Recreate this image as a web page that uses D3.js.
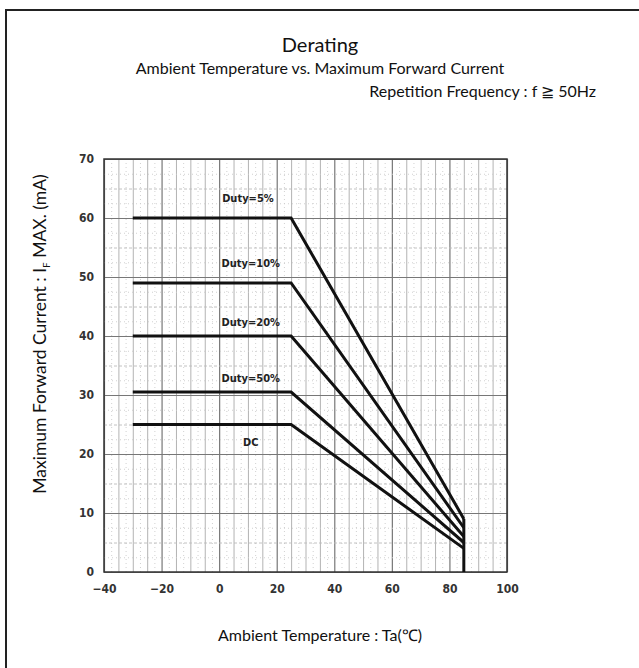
<!DOCTYPE html>
<html>
<head>
<meta charset="utf-8">
<script src="https://cdn.jsdelivr.net/npm/d3@7"></script>
<style>
  html, body { margin: 0; background: #fff; overflow: hidden; }
  svg { display: block; }
  .tick text { font-family: "Liberation Sans Narrow", "DejaVu Sans Condensed", sans-serif; font-weight: bold; fill: #333; }
</style>
</head>
<body>
<div id="chart"></div>
<script>
// curve data
const dutyLabels = ["Duty=5%", "Duty=10%", "Duty=20%", "Duty=50%", "DC"];
const flatCurrent = [60, 49, 40, 30.5, 25];
const endCurrent = [9, 7.5, 6, 5, 4];
const startTemp = -30, kneeTemp = 25, endTemp = 85;
const labelTemp = [10, 11, 11, 11, 11];
const labelCurrent = [63.4, 52.4, 42.4, 32.9, 22];
const xTicks = [-40, -20, 0, 20, 40, 60, 80, 100];
const yTicks = [0, 10, 20, 30, 40, 50, 60, 70];

const width = 639, height = 668;
const margins = { top: 159, right: 132, bottom: 96, left: 104 };
const w = width - margins.left - margins.right;
const h = height - margins.top - margins.bottom;

const svg = d3.select("#chart").append("svg")
  .attr("width", width).attr("height", height);

// outer frame (only left and top edges fall inside the picture)
svg.append("path")
  .attr("d", `M6,${height + 10}V10H${width + 10}`)
  .attr("fill", "none").attr("stroke", "#222").attr("stroke-width", 2);

const font = "Lato, 'Open Sans', sans-serif";

svg.append("text")
  .attr("x", 320).attr("y", 52)
  .attr("text-anchor", "middle")
  .style("font-family", font).style("font-size", "20px").attr("fill", "#111")
  .text("Derating");

svg.append("text")
  .attr("x", 320).attr("y", 74)
  .attr("text-anchor", "middle")
  .style("font-family", font).style("font-size", "16px").attr("fill", "#111")
  .text("Ambient Temperature vs. Maximum Forward Current");

svg.append("text")
  .attr("x", 596).attr("y", 97)
  .attr("text-anchor", "end")
  .style("font-family", font).style("font-size", "16px").attr("fill", "#111")
  .text("Repetition Frequency : f \u2267 50Hz");

const g = svg.append("g").attr("transform", `translate(${margins.left},${margins.top})`);

const x = d3.scaleLinear().domain([-40, 100]).range([0, w]);
const y = d3.scaleLinear().domain([0, 70]).range([h, 0]);

// graph paper grid
g.append("g")
  .call(d3.axisBottom(x).tickValues(d3.range(-40, 100.1, 2.5)).tickSize(h).tickFormat(""))
  .call(a => a.select(".domain").remove())
  .selectAll("line")
  .attr("stroke", d => d % 20 === 0 ? "#777" : d % 5 === 0 ? "#aaa" : "#ccc")
  .attr("stroke-dasharray", d => d % 5 === 0 ? null : "1,3")
  .attr("stroke-width", d => d % 20 === 0 ? 1.2 : 0.9);

g.append("g")
  .call(d3.axisLeft(y).tickValues(d3.range(0, 70.1, 2.5)).tickSize(-w).tickFormat(""))
  .call(a => a.select(".domain").remove())
  .selectAll("line")
  .attr("stroke", d => d % 10 === 0 ? "#777" : d % 5 === 0 ? "#bbb" : "#ccc")
  .attr("stroke-dasharray", d => d % 10 === 0 ? null : d % 5 === 0 ? "3,2" : "1,3")
  .attr("stroke-width", d => d % 10 === 0 ? 1.2 : 0.9);

g.append("rect")
  .attr("width", w).attr("height", h)
  .attr("fill", "none").attr("stroke", "#333").attr("stroke-width", 1.5);

g.append("g")
  .attr("transform", `translate(0,${h})`)
  .call(d3.axisBottom(x).tickValues(xTicks).tickSize(0).tickPadding(12))
  .call(a => a.select(".domain").remove())
  .selectAll("text").style("font-size", "12px");

g.append("g")
  .call(d3.axisLeft(y).tickValues(yTicks).tickSize(0).tickPadding(10))
  .call(a => a.select(".domain").remove())
  .selectAll("text").style("font-size", "12px");

// derating curves
const line = d3.line().x(d => x(d[0])).y(d => y(d[1]));
dutyLabels.forEach((name, i) => {
  const pts = [[startTemp, flatCurrent[i]], [kneeTemp, flatCurrent[i]], [endTemp, endCurrent[i]]];
  g.append("path")
    .attr("d", line(pts))
    .attr("fill", "none").attr("stroke", "#111").attr("stroke-width", 3)
    .attr("stroke-linejoin", "miter");
  g.append("text")
    .attr("x", x(labelTemp[i])).attr("y", y(labelCurrent[i]))
    .attr("text-anchor", "middle").attr("dy", "0.35em")
    .style("font-family", "'Liberation Sans Narrow', 'DejaVu Sans Condensed', sans-serif")
    .style("font-weight", "bold").style("font-size", "11px").attr("fill", "#222")
    .text(name);
});

g.append("path")
  .attr("d", line([[endTemp, d3.max(endCurrent)], [endTemp, 0]]))
  .attr("stroke", "#111").attr("stroke-width", 3);

// axis titles
svg.append("text")
  .attr("x", 320).attr("y", 641)
  .attr("text-anchor", "middle")
  .style("font-family", font).style("font-size", "16px").attr("fill", "#111")
  .text("Ambient Temperature : Ta(\u2103)");

const yl = svg.append("text")
  .attr("transform", "translate(46,334) rotate(-90)")
  .attr("text-anchor", "middle")
  .style("font-family", font).style("font-size", "17.5px").attr("fill", "#111");
yl.append("tspan").text("Maximum Forward Current : I");
yl.append("tspan").attr("dy", 4).style("font-size", "10px").text("F");
yl.append("tspan").attr("dy", -4).text(" MAX. (mA)");
</script>
</body>
</html>
